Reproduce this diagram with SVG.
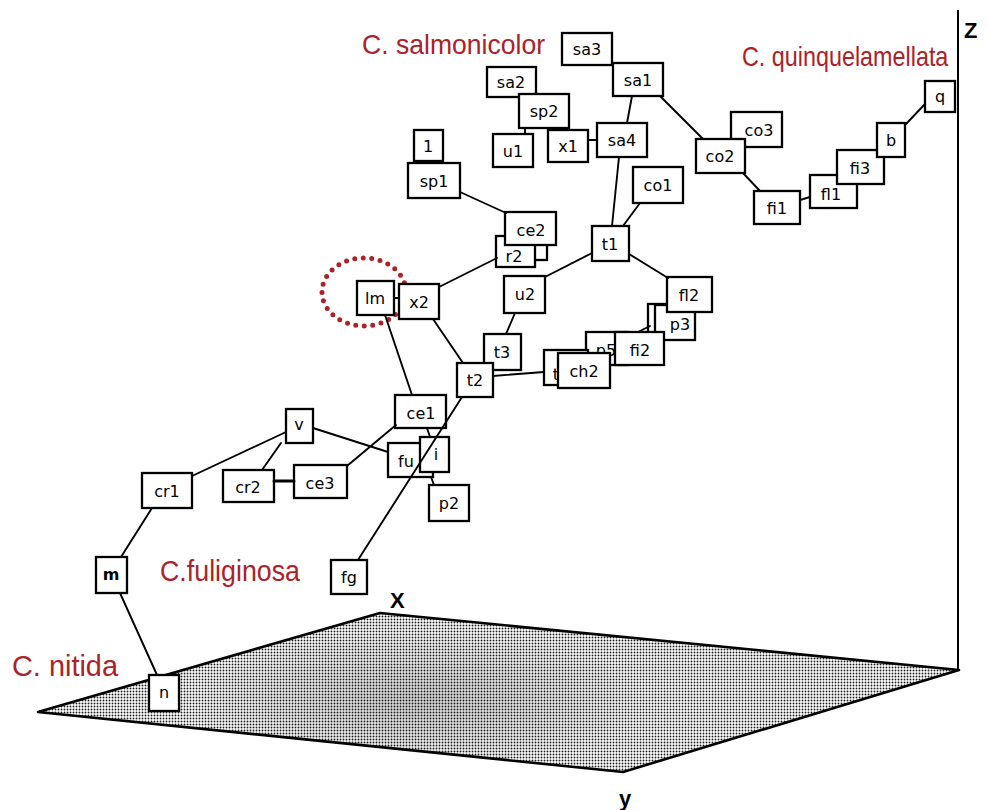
<svg xmlns="http://www.w3.org/2000/svg" width="988" height="810" viewBox="0 0 988 810">
  <style>
    .nd rect { fill: #fff; stroke: #000; stroke-width: 2.3; }
    .nd text { font-family: "DejaVu Sans", "Liberation Sans", sans-serif; font-size: 16px; fill: #000; text-anchor: middle; }
    .cn line { stroke: #000; stroke-width: 1.9; stroke-linecap: round; }
    .sp { font-family: "Liberation Sans", Arial, sans-serif; fill: #ad2129; }
    .ax { font-family: "Liberation Sans", Arial, sans-serif; font-weight: bold; font-size: 22px; fill: #000; }
  </style>
  <defs>
    <pattern id="stipple" width="3" height="3" patternUnits="userSpaceOnUse">
      <rect width="3" height="3" fill="#fff"/>
      <circle cx="1.5" cy="1.5" r="0.95" fill="#222"/>
    </pattern>
    <radialGradient id="haze" cx="0.5" cy="0.5" r="0.5">
      <stop offset="0" stop-color="#000" stop-opacity="0.16"/>
      <stop offset="1" stop-color="#000" stop-opacity="0"/>
    </radialGradient>
    <clipPath id="planeClip">
      <polygon points="38,712 380,613 959,670 623,772"/>
    </clipPath>
  </defs>
  <rect width="988" height="810" fill="#fff"/>

  <!-- ground plane and axes -->
  <g id="axes">
    <polygon points="38,712 380,613 959,670 623,772" fill="url(#stipple)"/>
    <ellipse cx="420" cy="700" rx="230" ry="70" fill="url(#haze)" clip-path="url(#planeClip)"/>
    <polygon points="38,712 380,613 959,670 623,772" fill="none" stroke="#000" stroke-width="2.6" stroke-linejoin="round"/>
    <line x1="958" y1="10" x2="958" y2="670" stroke="#000" stroke-width="2"/>
    <text class="ax" x="964" y="38" font-size="21">Z</text>
    <text class="ax" x="390" y="608" font-size="20">X</text>
    <text class="ax" x="619" y="806">y</text>
  </g>

  <!-- species labels -->
  <g id="labels">
    <text class="sp" x="362" y="54" font-size="28" textLength="183" lengthAdjust="spacingAndGlyphs">C. salmonicolor</text>
    <text class="sp" transform="translate(742,66) scale(0.865,1)" x="0" y="0" font-size="27">C. quinquelamellata</text>
    <text class="sp" x="160" y="581" font-size="29" textLength="140" lengthAdjust="spacingAndGlyphs">C.fuliginosa</text>
    <text class="sp" x="12" y="676" font-size="30" textLength="106" lengthAdjust="spacingAndGlyphs">C. nitida</text>
  </g>

  <!-- highlight around lm -->
  <ellipse cx="364" cy="292" rx="42" ry="34" fill="none" stroke="#ad2129" stroke-width="5" stroke-linecap="round" stroke-dasharray="0 8.5"/>

  <!-- nodes -->
  <g id="nodes">
    <g id="n-sa3" class="nd"><rect x="562" y="33" width="50" height="32"/><text x="587" y="55">sa3</text></g>
    <g id="n-sa1" class="nd"><rect x="613" y="63" width="50" height="33"/><text x="638" y="86">sa1</text></g>
    <g id="n-sa2" class="nd"><rect x="487" y="67" width="49" height="30"/><text x="511" y="88">sa2</text></g>
    <g id="n-sp2" class="nd"><rect x="519" y="94" width="50" height="34"/><text x="544" y="117">sp2</text></g>
    <g id="n-u1" class="nd"><rect x="493" y="134" width="40" height="33"/><text x="513" y="157">u1</text></g>
    <g id="n-x1" class="nd"><rect x="548" y="130" width="40" height="32"/><text x="568" y="152">x1</text></g>
    <g id="n-sa4" class="nd"><rect x="597" y="123" width="50" height="34"/><text x="622" y="146">sa4</text></g>
    <g id="n-co3" class="nd"><rect x="731" y="112" width="51" height="35"/><text x="759" y="136">co3</text></g>
    <g id="n-co2" class="nd"><rect x="696" y="139" width="49" height="34"/><text x="720" y="162">co2</text></g>
    <g id="n-co1" class="nd"><rect x="633" y="167" width="50" height="36"/><text x="658" y="191">co1</text></g>
    <g id="n-fi1" class="nd"><rect x="754" y="191" width="46" height="33"/><text x="777" y="214">fi1</text></g>
    <g id="n-fl1" class="nd"><rect x="810" y="175" width="47" height="33"/><text x="831" y="200">fl1</text></g>
    <g id="n-fi3" class="nd"><rect x="837" y="150" width="47" height="34"/><text x="860" y="174">fi3</text></g>
    <g id="n-b" class="nd"><rect x="877" y="123" width="28" height="34"/><text x="891" y="146">b</text></g>
    <g id="n-q" class="nd"><rect x="925" y="81" width="30" height="31"/><text x="940" y="102">q</text></g>
    <g id="n-1" class="nd"><rect x="414" y="130" width="29" height="31"/><text x="428" y="152">1</text></g>
    <g id="n-sp1" class="nd"><rect x="408" y="163" width="52" height="35"/><text x="434" y="187">sp1</text></g>
    <g id="n-ce2b" class="nd"><rect x="518" y="234" width="29" height="26"/></g>
    <g id="n-r2" class="nd"><rect x="496" y="236" width="39" height="31"/><text x="514" y="262">r2</text></g>
    <g id="n-ce2" class="nd"><rect x="505" y="212" width="51" height="33"/><text x="531" y="236">ce2</text></g>
    <g id="n-t1" class="nd"><rect x="592" y="226" width="37" height="35"/><text x="610" y="250">t1</text></g>
    <g id="n-u2" class="nd"><rect x="504" y="276" width="41" height="37"/><text x="525" y="300">u2</text></g>
    <g id="n-t3" class="nd"><rect x="484" y="334" width="37" height="36"/><text x="502" y="358">t3</text></g>
    <g id="n-lm" class="nd"><rect x="357" y="281" width="37" height="34"/><text x="375" y="304" font-size="15">lm</text></g>
    <g id="n-x2" class="nd"><rect x="399" y="284" width="40" height="35"/><text x="419" y="308">x2</text></g>
    <g id="n-t2" class="nd"><rect x="457" y="363" width="36" height="34"/><text x="475" y="386">t2</text></g>
    <g id="n-p3b" class="nd"><rect x="648" y="304" width="40" height="32"/></g>
    <g id="n-p3" class="nd"><rect x="655" y="305" width="40" height="35"/><text x="680" y="330">p3</text></g>
    <g id="n-fl2" class="nd"><rect x="667" y="277" width="45" height="35"/><text x="689" y="301">fl2</text></g>
    <g id="n-p5" class="nd"><rect x="586" y="332" width="42" height="33"/><text x="606" y="356">p5</text></g>
    <g id="n-fi2" class="nd"><rect x="615" y="332" width="49" height="33"/><text x="640" y="356">fi2</text></g>
    <g id="n-t" class="nd"><rect x="544" y="350" width="44" height="35"/><text x="556" y="380">t</text></g>
    <g id="n-ch2" class="nd"><rect x="558" y="353" width="52" height="35"/><text x="584" y="377">ch2</text></g>
    <g id="n-ce1" class="nd"><rect x="395" y="395" width="51" height="33"/><text x="421" y="419">ce1</text></g>
    <g id="n-fu" class="nd"><rect x="388" y="443" width="45" height="34"/><text x="406" y="467">fu</text></g>
    <g id="n-i" class="nd"><rect x="420" y="437" width="29" height="35"/><text x="436" y="460">i</text></g>
    <g id="n-p2" class="nd"><rect x="429" y="485" width="40" height="36"/><text x="449" y="509">p2</text></g>
    <g id="n-v" class="nd"><rect x="286" y="409" width="27" height="34"/><text x="299" y="430">v</text></g>
    <g id="n-cr1" class="nd"><rect x="142" y="473" width="50" height="35"/><text x="167" y="497">cr1</text></g>
    <g id="n-cr2" class="nd"><rect x="223" y="470" width="51" height="32" stroke-width="3"/><text x="248" y="493">cr2</text></g>
    <g id="n-ce3" class="nd"><rect x="294" y="465" width="53" height="33" stroke-width="3"/><text x="320" y="489">ce3</text></g>
    <g id="n-fg" class="nd"><rect x="331" y="560" width="36" height="34"/><text x="349" y="583">fg</text></g>
    <g id="n-m" class="nd"><rect x="96" y="557" width="31" height="36" stroke-width="2.6"/><text x="111" y="580" font-size="10" font-weight="bold">m</text></g>
    <g id="n-n" class="nd"><rect x="149" y="675" width="30" height="36"/><text x="164" y="698">n</text></g>
  </g>

  <!-- connectors -->
  <g id="connectors" class="cn">
    <line x1="632" y1="96" x2="627" y2="123"/>
    <line x1="660" y1="96" x2="703" y2="139"/>
    <line x1="588" y1="140" x2="597" y2="140"/>
    <line x1="525" y1="128" x2="525" y2="134"/>
    <line x1="619" y1="157" x2="612" y2="226"/>
    <line x1="640" y1="203" x2="623" y2="226"/>
    <line x1="592" y1="253" x2="545" y2="277"/>
    <line x1="629" y1="254" x2="668" y2="278"/>
    <line x1="515" y1="313" x2="506" y2="334"/>
    <line x1="493" y1="376" x2="544" y2="372"/>
    <line x1="638" y1="332" x2="650" y2="326"/>
    <line x1="439" y1="287" x2="497" y2="258"/>
    <line x1="460" y1="192" x2="506" y2="213"/>
    <line x1="428" y1="161" x2="428" y2="163"/>
    <line x1="394" y1="298" x2="399" y2="298"/>
    <line x1="385" y1="315" x2="412" y2="395"/>
    <line x1="433" y1="319" x2="463" y2="363"/>
    <line x1="462" y1="397" x2="358" y2="560"/>
    <line x1="427" y1="428" x2="430" y2="437"/>
    <line x1="396" y1="425" x2="347" y2="466"/>
    <line x1="313" y1="428" x2="388" y2="452"/>
    <line x1="286" y1="432" x2="192" y2="476"/>
    <line x1="281" y1="443" x2="262" y2="470"/>
    <line x1="274" y1="481" x2="294" y2="481" style="stroke-width:3"/>
    <line x1="152" y1="508" x2="121" y2="557"/>
    <line x1="120" y1="593" x2="157" y2="675"/>
    <line x1="431" y1="477" x2="434" y2="485"/>
    <line x1="743" y1="173" x2="760" y2="191"/>
    <line x1="800" y1="200" x2="810" y2="197"/>
    <line x1="906" y1="124" x2="925" y2="104"/>
  </g>
</svg>
